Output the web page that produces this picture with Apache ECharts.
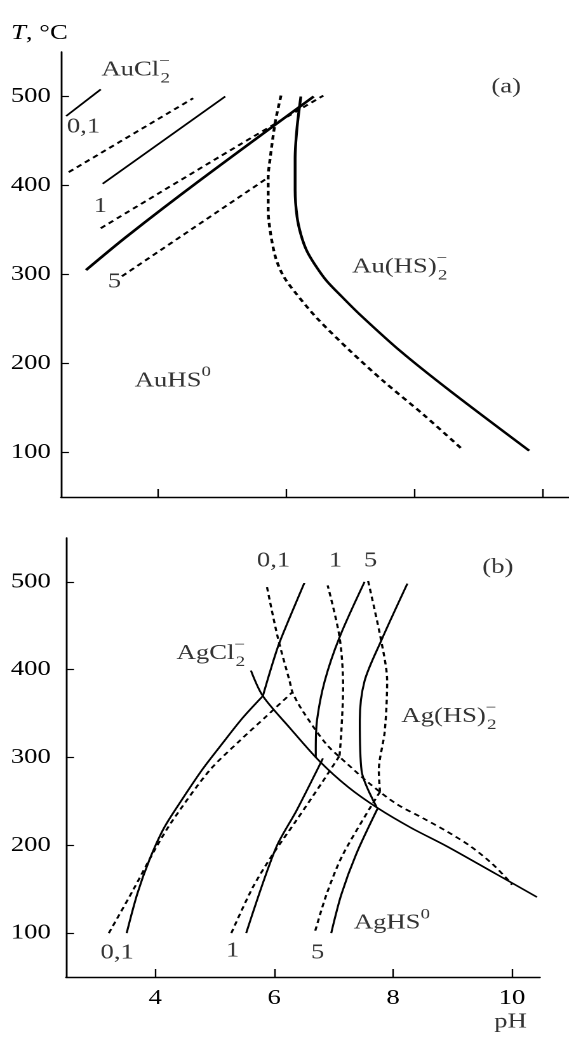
<!DOCTYPE html>
<html>
<head>
<meta charset="utf-8">
<script src="https://cdn.jsdelivr.net/npm/echarts@6/dist/echarts.min.js"></script>
<style>
html,body{margin:0;padding:0;background:#fff;overflow:hidden;}
#wrap{width:569px;height:1038px;overflow:hidden;}
#chart{width:448px;height:1038px;transform-origin:0 0;}
</style>
</head>
<body>
<div id="wrap"><div id="chart"></div></div>
<script>
// ---------- data (pH, T °C) ----------
const xTicks = [4, 6, 8, 10];
const yTicks = [100, 200, 300, 400, 500];

// Panel (a): Au
const aSolid01 = [[2.58,478],[3.12,508]];
const aDash01  = [[2.62,415],[4.56,498]];
const aSolid1  = [[3.15,402],[5.06,500]];
const aDash1   = [[3.12,352],[5.29,446],[6.59,501]];
const aSolid5  = [[2.89,305],[3.53,343],[4.67,406],[6.44,500]];
const aDash5   = [[3.45,298],[5.73,409]];
const aSolidHS = [[6.24,500],[6.18,465],[6.15,430],[6.15,395],[6.18,365],[6.24,345],[6.33,327],[6.46,311],[6.64,293],[6.88,275],[7.16,255],[7.79,214],[8.57,169],[9.80,102]];
const aDashHS  = [[5.93,501],[5.84,471],[5.76,430],[5.73,409],[5.73,372],[5.77,345],[5.85,318],[5.97,298],[6.15,280],[6.49,251],[7.01,214],[7.53,180],[8.16,142],[8.75,104]];

// Panel (b): Ag
const bSolid01Low = [[3.52,100],[3.70,145],[3.90,183],[4.15,220],[4.45,252],[4.80,287],[5.13,316],[5.47,345],[5.81,370]];
const bSolid01Up  = [[5.81,370],[5.95,402],[6.09,431],[6.51,499]];
const bDash01Low  = [[3.22,100],[3.62,148],[4.01,197],[4.29,228],[4.91,285],[5.42,319],[5.87,347],[6.30,374]];
const bDash01Up   = [[5.88,494],[6.06,437],[6.26,387],[6.31,374],[6.48,353],[6.88,315],[7.21,294],[7.61,270],[8.06,247],[8.50,231],[8.90,216],[9.30,199],[9.65,180],[9.90,163],[10.00,155]];
const bSolidBound = [[5.61,399],[5.81,370],[6.26,334],[6.76,296],[7.25,266],[7.75,242],[8.30,220],[8.90,199],[9.74,167],[10.42,141]];
const bSolid1Low  = [[5.53,100],[6.03,197],[6.38,240],[6.82,299]];
const bSolid1Up   = [[6.70,300],[6.70,309],[6.72,342],[6.85,387],[7.10,437],[7.52,500]];
const bDash1Low   = [[5.28,100],[5.64,152],[5.98,190],[6.37,228],[6.82,273],[7.10,302]];
const bDash1Up    = [[7.10,302],[7.13,330],[7.16,380],[7.10,437],[6.90,496]];
const bSolid5Up   = [[8.24,498],[7.80,433],[7.52,387],[7.44,342],[7.47,285],[7.72,244]];
const bSolid5Low  = [[7.74,242],[7.38,190],[7.13,144],[6.96,100]];
const bDash5Up    = [[7.58,501],[7.80,433],[7.90,387],[7.86,330],[7.76,285],[7.78,261]];
const bDash5Low   = [[7.78,261],[7.16,190],[6.88,144],[6.68,100]];

// text labels [pH, T, text]
const aLabels = [
  [3.14, 529, '{n|AuCl}{m|−}{s|2}'],
  [2.60, 465, '{n|0,1}'],
  [3.02, 376, '{n|1}'],
  [3.24, 291, '{n|5}'],
  [9.22, 510, '{n|(a)}'],
  [7.05, 308, '{n|Au(HS)}{m|−}{s|2}'],
  [3.66, 180, '{n|AuHS}{p|0}']
];
const bLabels = [
  [5.72, 523, '{n|0,1}'],
  [6.93, 523, '{n|1}'],
  [7.52, 523, '{n|5}'],
  [9.51, 516, '{n|(b)}'],
  [4.37, 418, '{n|AgCl}{m|−}{s|2}'],
  [8.15, 346, '{n|Ag(HS)}{m|−}{s|2}'],
  [7.35, 111, '{n|AgHS}{p|0}'],
  [3.09, 77, '{n|0,1}'],
  [5.20, 79, '{n|1}'],
  [6.63, 77, '{n|5}'],
  [9.71, -2, '{n|pH}']
];

// ---------- chart ----------
const S = 1.27;           // horizontal stretch of the reference figure
const FONT = 'Liberation Serif';
const INK = '#000';
document.getElementById('chart').style.transform = 'scaleX(' + S + ')';

const rich = {
  n: {fontFamily: FONT, fontSize: 21, lineHeight: 32, color: INK},
  s: {fontFamily: FONT, fontSize: 15, lineHeight: 15, verticalAlign: 'bottom', color: INK},
  p: {fontFamily: FONT, fontSize: 15, lineHeight: 15, verticalAlign: 'top', color: INK},
  m: {fontFamily: FONT, fontSize: 15, lineHeight: 8, verticalAlign: 'top', width: 1, color: INK},
  i: {fontFamily: FONT, fontSize: 21, fontStyle: 'italic', color: INK}
};

function line(data, k, dashed, width) {
  return {
    type: 'line', xAxisIndex: k, yAxisIndex: k, data: data,
    symbol: 'none', showSymbol: false, silent: true,
    smooth: data.length > 2 ? 0.3 : false,
    lineStyle: {color: INK, width: width, type: dashed ? [4.5, 3.5] : 'solid'}
  };
}
function labels(list, k) {
  return {
    type: 'scatter', xAxisIndex: k, yAxisIndex: k, silent: true, clip: false,
    symbolSize: 1, itemStyle: {color: 'rgba(0,0,0,0)'},
    data: list.map(d => ({value: [d[0], d[1]], label: {formatter: d[2]}})),
    label: {show: true, position: [0, 0], align: 'left', verticalAlign: 'middle', rich: rich}
  };
}
function xAx(k, max, showLabels) {
  return {
    gridIndex: k, type: 'value', min: 2.5, max: max,
    axisLine: {onZero: false, lineStyle: {color: INK, width: 1.4}},
    axisTick: {inside: true, length: 8, customValues: xTicks, lineStyle: {color: INK, width: 1.2}},
    axisLabel: {show: showLabels, customValues: xTicks, fontFamily: FONT, fontSize: 21, color: INK, margin: 11},
    splitLine: {show: false}
  };
}
function yAx(k, margin) {
  return {
    gridIndex: k, type: 'value', min: 50, max: 550,
    axisLine: {onZero: false, lineStyle: {color: INK, width: 1.4}},
    axisTick: {inside: true, length: 6.3, customValues: yTicks, lineStyle: {color: INK, width: 1.2}},
    axisLabel: {customValues: yTicks, fontFamily: FONT, fontSize: 21, color: INK, margin: margin},
    splitLine: {show: false}
  };
}

const xa = xAx(0, 10.42, false);
const xb = xAx(1, 10.47, true);
const ya = yAx(0, 8);
ya.name = '{i|T}{n|, °C}';
ya.nameLocation = 'end';
ya.nameGap = 8;
ya.nameTextStyle = {rich: {i: rich.i, n: {fontFamily: FONT, fontSize: 21, color: INK}}, align: 'center', padding: [0, 34, 0, 0]};
const yb = yAx(1, 12);

const chart = echarts.init(document.getElementById('chart'), null, {renderer: 'canvas', devicePixelRatio: 2});
chart.setOption({
  animation: false,
  backgroundColor: '#fff',
  grid: [
    {left: 61 / S, right: 0, top: 52, bottom: 541},
    {left: 66 / S, right: 29 / S, top: 538, bottom: 61}
  ],
  xAxis: [xa, xb],
  yAxis: [ya, yb],
  series: [
    line(aSolid01, 0, false, 1.6),
    line(aDash01, 0, true, 1.9),
    line(aSolid1, 0, false, 1.6),
    line(aDash1, 0, true, 1.9),
    line(aSolid5, 0, false, 2.4),
    line(aDash5, 0, true, 1.9),
    line(aSolidHS, 0, false, 2.2),
    line(aDashHS, 0, true, 2.2),
    labels(aLabels, 0),
    line(bSolid01Low, 1, false, 1.6),
    line(bSolid01Up, 1, false, 1.6),
    line(bDash01Low, 1, true, 1.7),
    line(bDash01Up, 1, true, 1.7),
    line(bSolidBound, 1, false, 1.6),
    line(bSolid1Low, 1, false, 1.6),
    line(bSolid1Up, 1, false, 1.6),
    line(bDash1Low, 1, true, 1.7),
    line(bDash1Up, 1, true, 1.7),
    line(bSolid5Up, 1, false, 1.6),
    line(bSolid5Low, 1, false, 1.6),
    line(bDash5Up, 1, true, 1.7),
    line(bDash5Low, 1, true, 1.7),
    labels(bLabels, 1)
  ]
});
</script>
</body>
</html>
